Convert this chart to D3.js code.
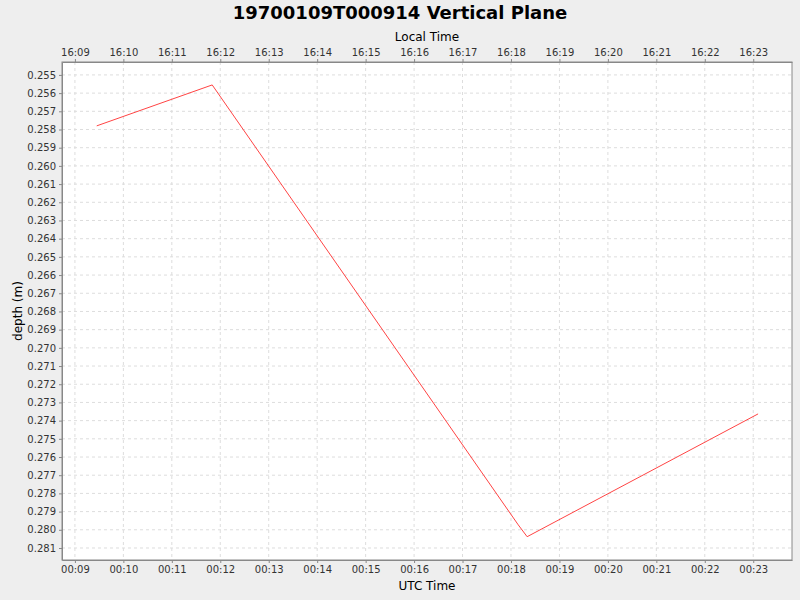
<!DOCTYPE html>
<html><head><meta charset="utf-8">
<script src="https://cdn.jsdelivr.net/npm/d3@7"></script>
<style>body{margin:0;background:#eeeeee;font-family:"DejaVu Sans",sans-serif}</style>
</head><body><svg id="c" width="800" height="600"></svg>
<script>
const times = ["00:09:27","00:11:50","00:18:09","00:18:20","00:23:06"];
const depths = [0.2578,0.25555,0.27973,0.28038,0.27363];
const yTicks = d3.range(255,282).map(v=>v/1000);
const title = "19700109T000914 Vertical Plane";

const svg = d3.select("#c");
const L=62,R=792,T=62,B=560;
const parse = s => new Date("1970-01-09T"+s+"Z");
const x = d3.scaleUtc().domain([parse("00:08:44"),parse("00:23:48")]).range([L,R]);
const y = d3.scaleLinear().domain([0.25429,0.28166]).range([T,B]);
const xTicks = d3.range(9,24).map(m=>parse("00:"+String(m).padStart(2,"0")+":00"));

svg.append("rect").attr("x",L).attr("y",T).attr("width",R-L).attr("height",B-T).attr("fill","#fff");
const g = svg.append("g");
g.selectAll(".vx").data(xTicks).join("line").attr("x1",d=>x(d)).attr("x2",d=>x(d)).attr("y1",T).attr("y2",B)
 .attr("stroke","#dddddd").attr("stroke-dasharray","3,3");
g.selectAll(".hy").data(yTicks).join("line").attr("y1",d=>y(d)).attr("y2",d=>y(d)).attr("x1",L).attr("x2",R)
 .attr("stroke","#dddddd").attr("stroke-dasharray","3,3");
svg.append("rect").attr("x",L).attr("y",T).attr("width",R-L).attr("height",B-T).attr("fill","none").attr("stroke","#888");

const fmt = d3.utcFormat("%H:%M");
const bx = svg.append("g").attr("transform",`translate(0,${B})`)
 .call(d3.axisBottom(x).tickValues(xTicks).tickFormat(fmt).tickSize(3).tickSizeOuter(0));
const tx = svg.append("g").attr("transform",`translate(0,${T})`)
 .call(d3.axisTop(x).tickValues(xTicks).tickFormat(d=>fmt(new Date(+d+16*3600000))).tickSize(3).tickSizeOuter(0));
const ly = svg.append("g").attr("transform",`translate(${L},0)`)
 .call(d3.axisLeft(y).tickValues(yTicks).tickFormat(d3.format(".3f")).tickSize(3).tickSizeOuter(0));
[bx,tx,ly].forEach(a=>{a.selectAll("text").attr("font-size",10).attr("fill","#333").attr("font-family","DejaVu Sans");
 a.selectAll("line").attr("stroke","#888"); a.select(".domain").attr("stroke","#888");});

svg.append("path").datum(times.map((t,i)=>[parse(t),depths[i]]))
 .attr("d",d3.line().x(d=>x(d[0])).y(d=>y(d[1]))).attr("fill","none").attr("stroke","#ff4444").attr("stroke-width",1);

svg.append("text").attr("x",400).attr("y",19).attr("text-anchor","middle").attr("font-size",18).attr("font-weight","bold").text(title);
svg.append("text").attr("x",427).attr("y",41).attr("text-anchor","middle").attr("font-size",12).text("Local Time");
svg.append("text").attr("x",427).attr("y",590).attr("text-anchor","middle").attr("font-size",12).text("UTC Time");
svg.append("text").attr("transform","translate(22,311) rotate(-90)").attr("text-anchor","middle").attr("font-size",12).text("depth (m)");
</script></body></html>
